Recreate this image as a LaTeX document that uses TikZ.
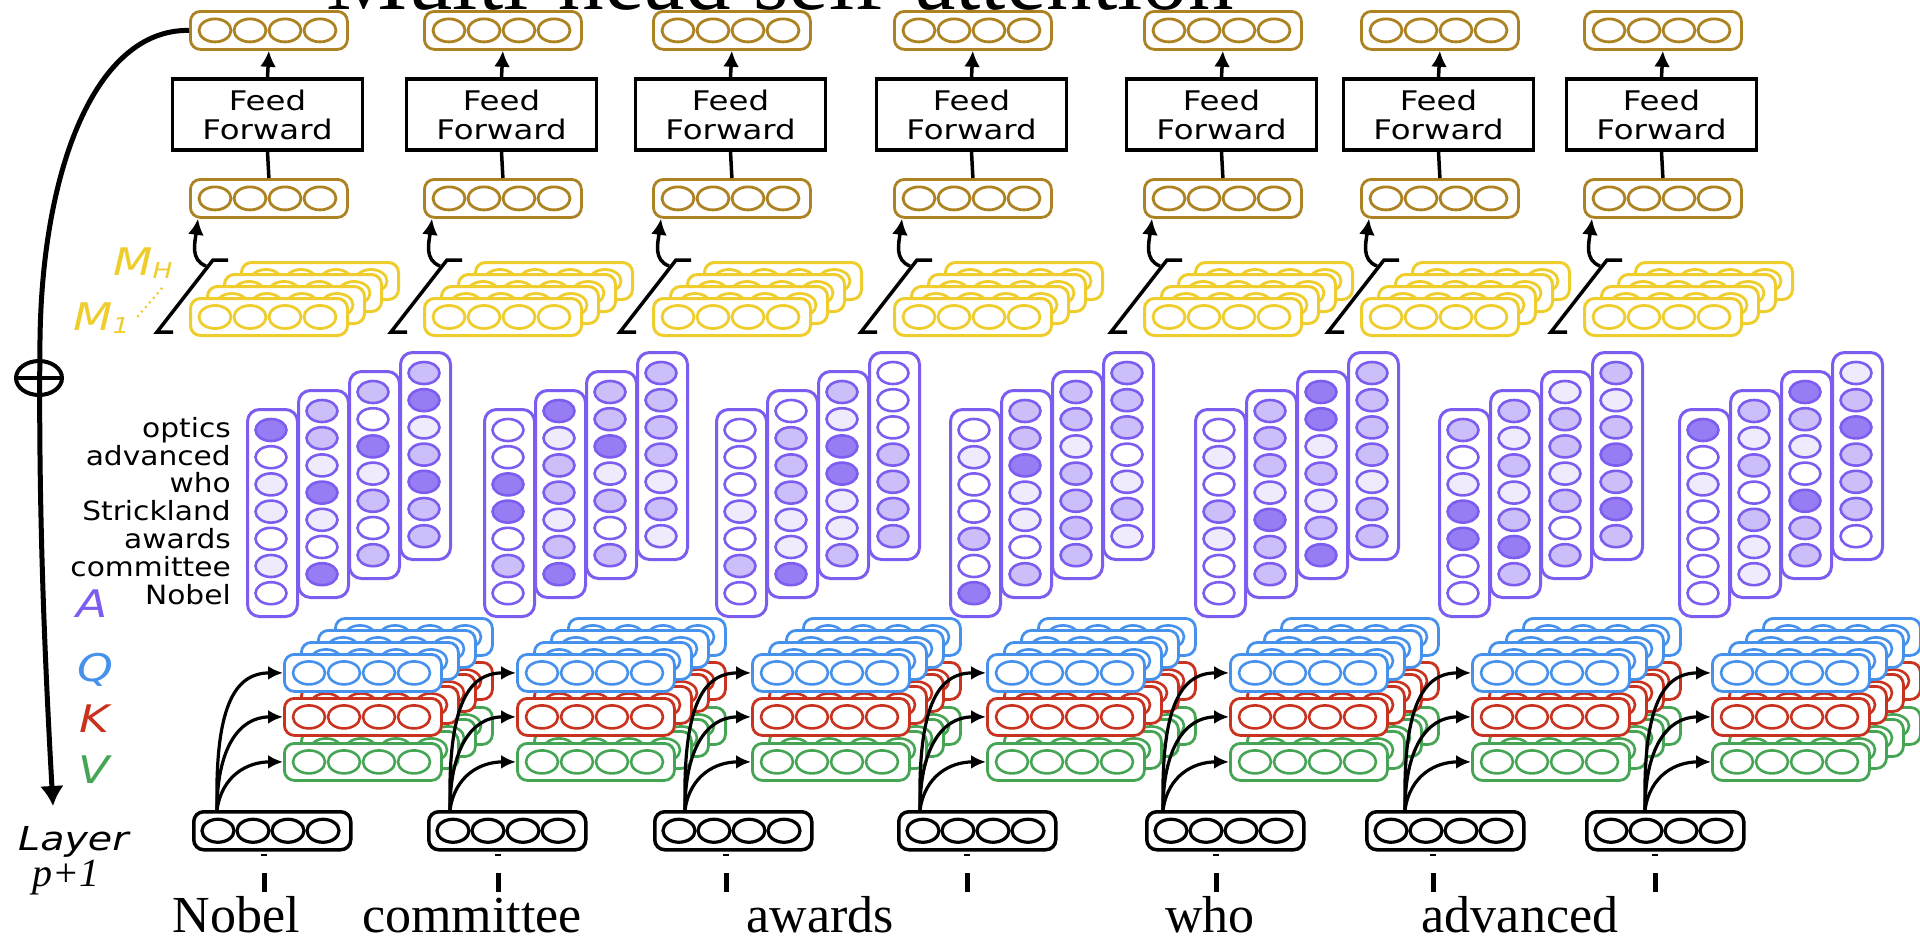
\documentclass[tikz,border=0pt]{standalone}
\usepackage{fontspec}
\setmainfont{Liberation Serif}
\newfontfamily\sfw[FakeStretch=1.2]{DejaVu Sans}
\newfontfamily\sfr[FakeStretch=1.12]{DejaVu Sans}
\usetikzlibrary{arrows.meta,shapes.geometric}
\definecolor{gold}{RGB}{172,130,35}
\definecolor{yel}{RGB}{238,205,45}
\definecolor{purp}{RGB}{125,92,240}
\definecolor{qblue}{RGB}{70,145,235}
\definecolor{kred}{RGB}{200,50,30}
\definecolor{vgreen}{RGB}{70,165,85}
\colorlet{sh0}{white}
\colorlet{sh1}{purp!12}
\colorlet{sh2}{purp!40}
\colorlet{sh3}{purp!80}
\tikzset{
  vecb/.style={draw, rounded corners=10pt, minimum width=157pt, minimum height=37pt, inner sep=0pt, line width=2.8pt, fill=white},
  gb/.style={vecb, draw=gold, minimum height=38pt},
  gc/.style={draw=gold, line width=2.8pt},
  yb/.style={vecb, draw=yel, line width=3pt},
  yc/.style={draw=yel, line width=2.8pt},
  qb/.style={vecb, draw=qblue},
  qcc/.style={draw=qblue, line width=2.6pt},
  kb/.style={vecb, draw=kred},
  kc/.style={draw=kred, line width=2.6pt},
  vgb/.style={vecb, draw=vgreen},
  vc/.style={draw=vgreen, line width=2.6pt},
  bb/.style={vecb, draw=black, line width=3.5pt, minimum height=38pt},
  bc/.style={draw=black, line width=3.2pt},
  ab/.style={draw=purp, line width=3pt, rounded corners=12pt, minimum width=50pt, minimum height=207pt, inner sep=0pt, fill=white},
  ac/.style={draw=purp, line width=2.6pt},
  ffb/.style={draw, line width=3.5pt, minimum width=190pt, minimum height=71pt, inner sep=0pt, align=center, fill=white, font=\sfw\fontsize{27}{29}\selectfont},
  ln/.style={line width=3.5pt},
  arr/.style={ln, -{Latex[length=16pt,width=16pt]}},
  arrq/.style={line width=3.2pt, -{Latex[length=15pt,width=14pt]}},
  big/.style={line width=5pt, -{Latex[length=20pt,width=24pt]}},
  rowlab/.style={font=\sfr\fontsize{26.5}{26.5}\selectfont, anchor=base east, inner sep=0pt},
  letlab/.style={font=\sfw\itshape\fontsize{38}{38}\selectfont, anchor=base, inner sep=0pt},
  word/.style={font=\fontsize{52}{52}\selectfont, anchor=base, inner sep=0pt}
}
\newcommand\vecnode[5]{%
  \node[#4, anchor=north west] (#1) at (#2,#3) {};
  \foreach \k in {0,1,2,3}
    \draw[#5] ([xshift=26pt+35pt*\k]#1.west) ellipse [x radius=16pt, y radius=11.5pt];
}
\newcommand\attcol[4]{%
  \node[ab, anchor=north west] (#1) at (#2,#3-22) {};
  \foreach \v [count=\i from 0] in {#4}
    \draw[ac, fill=sh\v] (#2+25,#3+27.2*\i) ellipse [x radius=15.5pt, y radius=11pt];
}
\newcommand\attgrp[6]{%
  \attcol{a#1c1}{#2}{430}{#3}
  \attcol{a#1c2}{#2+51}{411}{#4}
  \attcol{a#1c3}{#2+102}{392}{#5}
  \attcol{a#1c4}{#2+153}{373}{#6}
}
\newcommand\topcol[2]{%
  \vecnode{gt#1}{#2}{10}{gb}{gc}
  \vecnode{gl#1}{#2}{178}{gb}{gc}
  \node[ffb] (ff#1) at (#2+78.5,114.5) {Feed\\Forward};
  \draw[arr] (ff#1.north) -- (gt#1.south);
  \draw[ln] (gl#1.north) -- (ff#1.south);
  \foreach \d in {3,2,1} {\vecnode{y#1d\d}{#2+17*\d}{297-12*\d}{yb}{yc}}
  \vecnode{y#1}{#2}{297}{yb}{yc}
  \draw[ln] (#2-16,332) -- (#2-32,332) -- (#2+24,260) -- (#2+39,260);
  \coordinate (ys#1) at (#2+17,266);
  \draw[arr] (ys#1) .. controls (#2+1,260) and (#2+6,242) .. ([xshift=9pt]gl#1.south west);
}
\newcommand\qkvstack[2]{%
  \foreach \d in {3,2,1} {%
    \vecnode{q#1d\d}{#2+66+17*\d}{653-12*\d}{qb}{qcc}
    \vecnode{k#1d\d}{#2+66+17*\d}{697-12*\d}{kb}{kc}
    \vecnode{v#1d\d}{#2+66+17*\d}{742-12*\d}{vgb}{vc}
  }
  \vecnode{q#1}{#2+66}{653}{qb}{qcc}
  \vecnode{k#1}{#2+66}{697}{kb}{kc}
  \vecnode{v#1}{#2+66}{742}{vgb}{vc}
}
\newcommand\qkvarrows[4]{% idx, start x, black left, tick x
  \vecnode{b#1}{#3}{810}{bb}{bc}
  \coordinate (st#1) at (#2,810);
  \draw[arrq] (st#1) .. controls +(-2,-100) and +(-50,0) .. (q#1.west);
  \draw[arrq] (st#1) .. controls +(0,-60) and +(-45,0) .. (k#1.west);
  \draw[arrq] (st#1) .. controls +(5,-35) and +(-35,0) .. (v#1.west);
  \draw[line width=2pt] (#4-3,855) -- (#4+3,855);
  \draw[line width=5pt] (#4,873) -- (#4,892);
}
\begin{document}
\begin{tikzpicture}[x=1pt,y=-1pt]
\useasboundingbox (0,0) rectangle (1920,943);
\fill[white] (0,0) rectangle (1920,943);
\node[font=\fontsize{91}{100}\selectfont, anchor=base, inner sep=0pt] (title) at (780,9) {Multi-head self-attention};

% top part
\topcol{1}{189}
\topcol{2}{423}
\topcol{3}{652}
\topcol{4}{893}
\topcol{5}{1143}
\topcol{6}{1360}
\topcol{7}{1583}

% M labels
\node[font=\sfw\itshape\fontsize{38}{38}\selectfont, text=yel, anchor=base west, inner sep=0pt] (mh) at (113,275) {M\raisebox{-3pt}{\fontsize{22}{22}\selectfont H}};
\node[font=\sfw\itshape\fontsize{38}{38}\selectfont, text=yel, anchor=base west, inner sep=0pt] (m1) at (73,330) {M\raisebox{-3pt}{\fontsize{22}{22}\selectfont 1}};
\draw[yel, line width=3pt, line cap=round, dash pattern=on 0pt off 6pt] (138,316) -- (163,287);

% attention
\attgrp{1}{246}{3,0,1,1,0,1,0}{2,2,1,3,1,0,3}{2,0,3,1,2,0,2}{2,3,1,2,3,2,2}
\attgrp{2}{483}{0,0,3,3,0,2,0}{3,1,2,2,1,2,3}{2,2,3,1,2,0,2}{2,2,2,2,1,2,1}
\attgrp{3}{715}{0,0,0,1,0,2,0}{0,2,2,2,1,1,3}{2,1,3,3,1,1,2}{0,0,0,2,2,2,2}
\attgrp{4}{949}{0,1,0,0,2,0,3}{2,2,3,1,1,0,2}{2,2,1,2,2,2,2}{2,2,2,0,1,2,1}
\attgrp{5}{1194}{0,1,0,2,1,0,0}{2,2,2,1,3,2,2}{3,3,1,2,1,2,3}{2,2,2,2,1,2,2}
\attgrp{6}{1438}{2,0,1,3,3,0,0}{2,1,2,1,2,3,2}{1,2,2,1,2,0,2}{2,1,2,3,2,3,2}
\attgrp{7}{1678}{3,0,1,0,0,0,0}{2,1,2,0,2,1,1}{3,2,1,0,3,2,2}{1,2,3,2,2,2,0}

% row labels
\node[rowlab] (r1) at (231,437) {optics};
\node[rowlab] (r2) at (231,465) {advanced};
\node[rowlab] (r3) at (231,492) {who};
\node[rowlab] (r4) at (231,520) {Strickland};
\node[rowlab] (r5) at (231,548) {awards};
\node[rowlab] (r6) at (231,576) {committee};
\node[rowlab] (r7) at (231,604) {Nobel};

\node[letlab, text=purp] (la) at (92,617) {A};
\node[letlab, text=qblue] (lq) at (95,681) {Q};
\node[letlab, text=kred] (lk) at (94,732) {K};
\node[letlab, text=vgreen] (lv) at (94,783) {V};

% QKV stacks
\qkvstack{1}{217}
\qkvstack{2}{450}
\qkvstack{3}{685}
\qkvstack{4}{920}
\qkvstack{5}{1163}
\qkvstack{6}{1405}
\qkvstack{7}{1645}

\qkvarrows{1}{217}{192}{264}
\qkvarrows{2}{450}{427}{498}
\qkvarrows{3}{685}{653}{726}
\qkvarrows{4}{920}{897}{967}
\qkvarrows{5}{1163}{1145}{1216}
\qkvarrows{6}{1405}{1365}{1433}
\qkvarrows{7}{1645}{1585}{1655}

% residual arrow
\coordinate (lay) at (53,806);
\draw[big] (gt1.west) .. controls (95,29) and (42,170) .. (40,340) .. controls (38,520) and (46,680) .. (lay);
\node[draw, ellipse, line width=4pt, minimum width=46pt, minimum height=34pt, inner sep=0pt] (op) at (39,378) {};
\draw[line width=4pt] (op.west) -- (op.east);

\node[font=\sfw\itshape\fontsize{33}{33}\selectfont, anchor=base west, inner sep=0pt] (layer) at (18,850) {Layer};
\node[font=\itshape\fontsize{40}{40}\selectfont, anchor=base, inner sep=0pt] (pp) at (66,886) {p+1};

% words
\node[word] (w1) at (236,932) {Nobel};
\node[word] (w2) at (472,932) {committee};
\node[word] (w3) at (820,932) {awards};
\node[word] (w4) at (1210,932) {who};
\node[word] (w5) at (1520,932) {advanced};
\end{tikzpicture}
\end{document}
